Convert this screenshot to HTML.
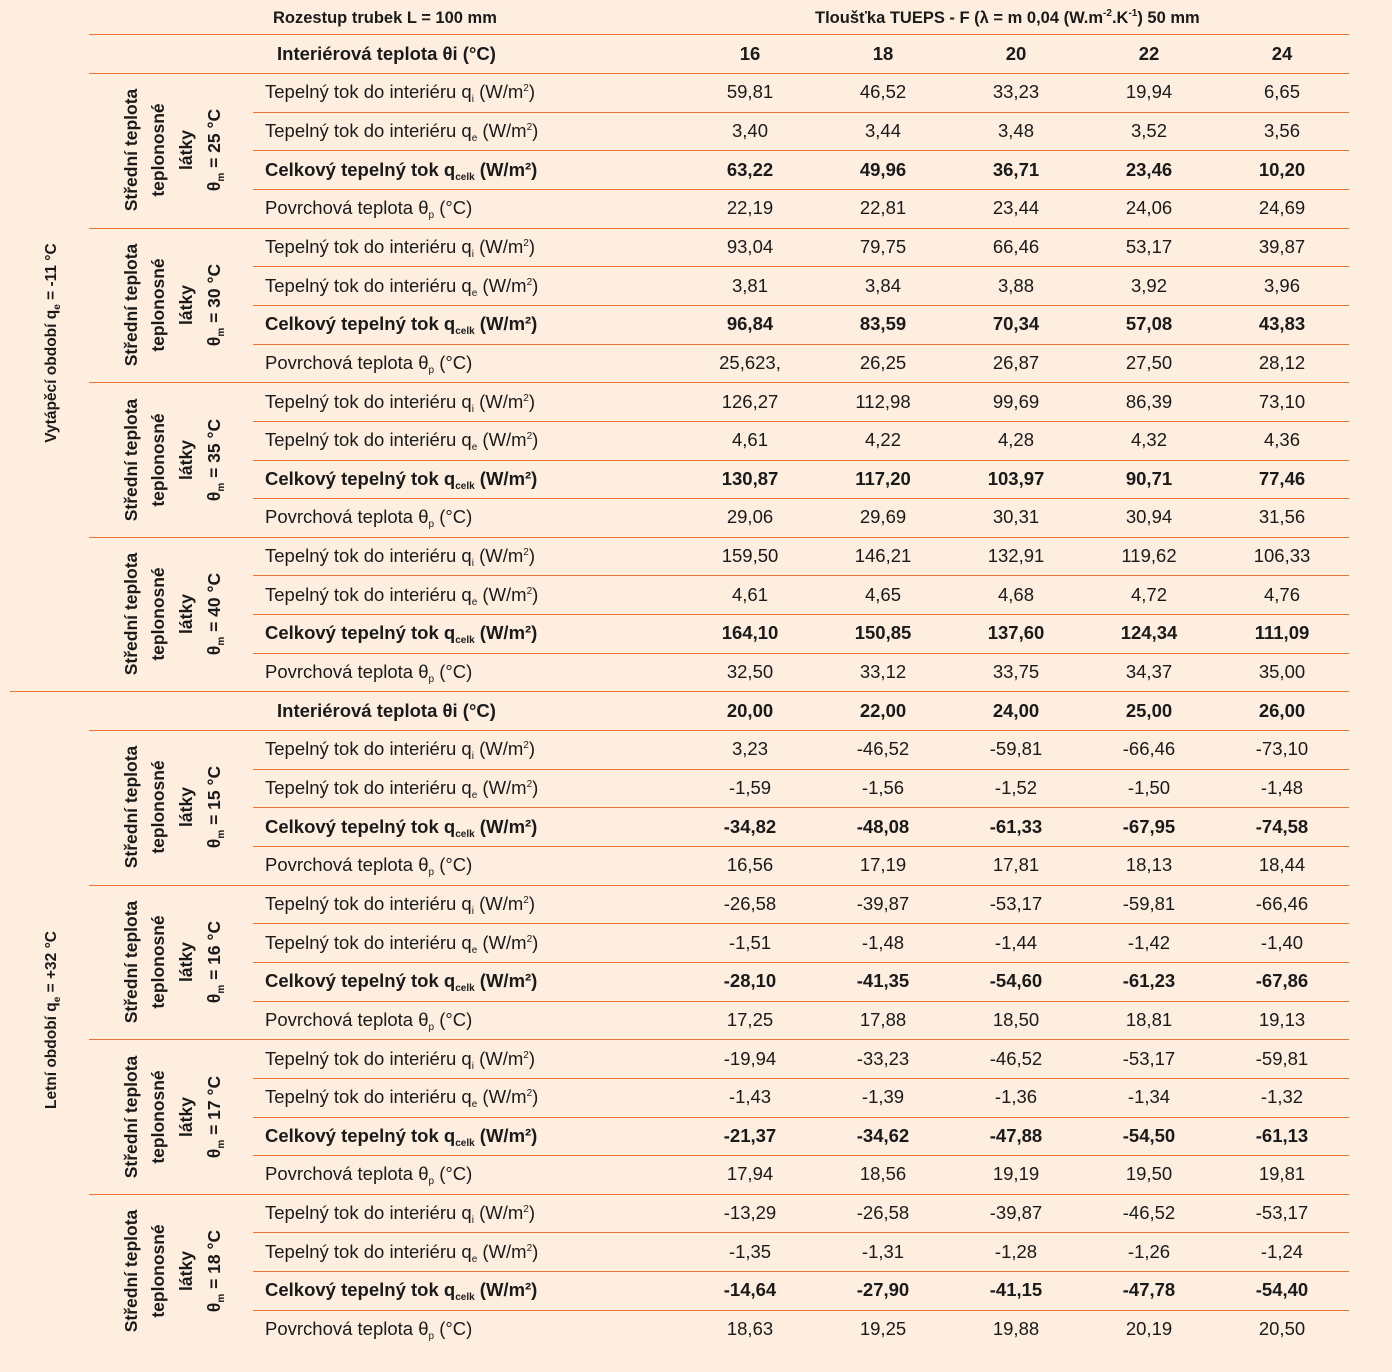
<!DOCTYPE html>
<html><head><meta charset="utf-8">
<style>
body{margin:0;width:1392px;height:1372px;background:#fdeee0;position:relative;overflow:hidden;font-family:"Liberation Sans",sans-serif;color:#1a1a1a}
.t{position:absolute;white-space:nowrap;font-size:18.5px;line-height:20px}
.c{transform:translateX(-50%)}
.b{font-weight:bold}
.ln{position:absolute;height:1px;background:#ea7434}
.v{position:absolute;white-space:nowrap;transform:translate(-50%,-50%) rotate(-90deg);font-size:17.5px;line-height:20px}
sub{font-size:10px;vertical-align:-4px;line-height:0}sup{font-size:10px;vertical-align:7px;line-height:0}
</style></head><body>
<div class="t b" style="left:273px;top:8px;font-size:16.5px">Rozestup trubek L = 100 mm</div>
<div class="t b" style="left:815px;top:8px;font-size:16.5px">Tloušťka TUEPS - F (λ = m 0,04 (W.m<sup>-2</sup>.K<sup>-1</sup>) 50 mm</div>
<div class="v b" style="left:52px;top:343px;font-size:15.5px">Vytápěcí období q<sub>e</sub> = -11 °C</div>
<div class="v b" style="left:52px;top:1020px;font-size:15.5px">Letní období q<sub>e</sub> = +32 °C</div>
<script>
const hdr1=["16","18","20","22","24"];
const hdr2=["20,00","22,00","24,00","25,00","26,00"];
const temps=["25","30","35","40","15","16","17","18"];
const vals=[
["59,81","46,52","33,23","19,94","6,65"],["3,40","3,44","3,48","3,52","3,56"],["63,22","49,96","36,71","23,46","10,20"],["22,19","22,81","23,44","24,06","24,69"],
["93,04","79,75","66,46","53,17","39,87"],["3,81","3,84","3,88","3,92","3,96"],["96,84","83,59","70,34","57,08","43,83"],["25,623,","26,25","26,87","27,50","28,12"],
["126,27","112,98","99,69","86,39","73,10"],["4,61","4,22","4,28","4,32","4,36"],["130,87","117,20","103,97","90,71","77,46"],["29,06","29,69","30,31","30,94","31,56"],
["159,50","146,21","132,91","119,62","106,33"],["4,61","4,65","4,68","4,72","4,76"],["164,10","150,85","137,60","124,34","111,09"],["32,50","33,12","33,75","34,37","35,00"],
["3,23","-46,52","-59,81","-66,46","-73,10"],["-1,59","-1,56","-1,52","-1,50","-1,48"],["-34,82","-48,08","-61,33","-67,95","-74,58"],["16,56","17,19","17,81","18,13","18,44"],
["-26,58","-39,87","-53,17","-59,81","-66,46"],["-1,51","-1,48","-1,44","-1,42","-1,40"],["-28,10","-41,35","-54,60","-61,23","-67,86"],["17,25","17,88","18,50","18,81","19,13"],
["-19,94","-33,23","-46,52","-53,17","-59,81"],["-1,43","-1,39","-1,36","-1,34","-1,32"],["-21,37","-34,62","-47,88","-54,50","-61,13"],["17,94","18,56","19,19","19,50","19,81"],
["-13,29","-26,58","-39,87","-46,52","-53,17"],["-1,35","-1,31","-1,28","-1,26","-1,24"],["-14,64","-27,90","-41,15","-47,78","-54,40"],["18,63","19,25","19,88","20,19","20,50"]];
const labels=['Tepelný tok do interiéru q<sub>i</sub> (W/m<sup>2</sup>)','Tepelný tok do interiéru q<sub>e</sub> (W/m<sup>2</sup>)','Celkový tepelný tok q<sub>celk</sub> (W/m²)','Povrchová teplota θ<sub>p</sub> (°C)'];
const colX=[750,883,1016,1149,1282];
const RH=38.65;
function line(x1,x2,y){const d=document.createElement('div');d.className='ln';d.style.left=x1+'px';d.style.width=(x2-x1)+'px';d.style.top=Math.round(y)+'px';


document.body.appendChild(d);}
function txt(html,x,yc,cls,name){const d=document.createElement('div');d.className='t '+cls;d.innerHTML=html;d.style.left=x+'px';d.style.top=(yc-10)+'px';


document.body.appendChild(d);}
function vt(html,x,yc,name){const d=document.createElement('div');d.className='v b';d.innerHTML=html;d.style.left=x+'px';d.style.top=yc+'px';


document.body.appendChild(d);}
line(89,1349,34);
[[34,hdr1,0],[691,hdr2,4]].forEach(([y0,h,g0])=>{
  txt('Interiérová teplota θi (°C)',277,y0+20,'b','interior-temp-header');
  h.forEach((v,i)=>txt(v,colX[i],y0+20,'b c','header-value'));
  line(89,1349,y0+39);
  for(let g=0;g<4;g++){
    const gy=y0+39+g*RH*4;
    const gi=g0+g;
    vt('Střední teplota',131,gy+2*RH,'group-label');
    vt('teplonosné',158,gy+2*RH,'group-label');
    vt('látky',186,gy+2*RH,'group-label');
    vt('θ<sub>m</sub> = '+temps[gi]+' °C',214,gy+2*RH,'group-temp');
    for(let r=0;r<4;r++){
      const yc=gy+r*RH+RH/2;
      const bold=r==2?'b':'';
      txt(labels[r],265,yc,bold,'row-label');
      vals[gi*4+r].forEach((v,i)=>txt(v,colX[i],yc,bold+' c','cell-value'));
      if(r<3)line(253,1349,gy+(r+1)*RH);
    }
    const ye=gy+4*RH;
    if(!(g0==4&&g==3)) line((g==3&&g0==0)?10:89,1349,ye);
  }
});
</script>
</body></html>
